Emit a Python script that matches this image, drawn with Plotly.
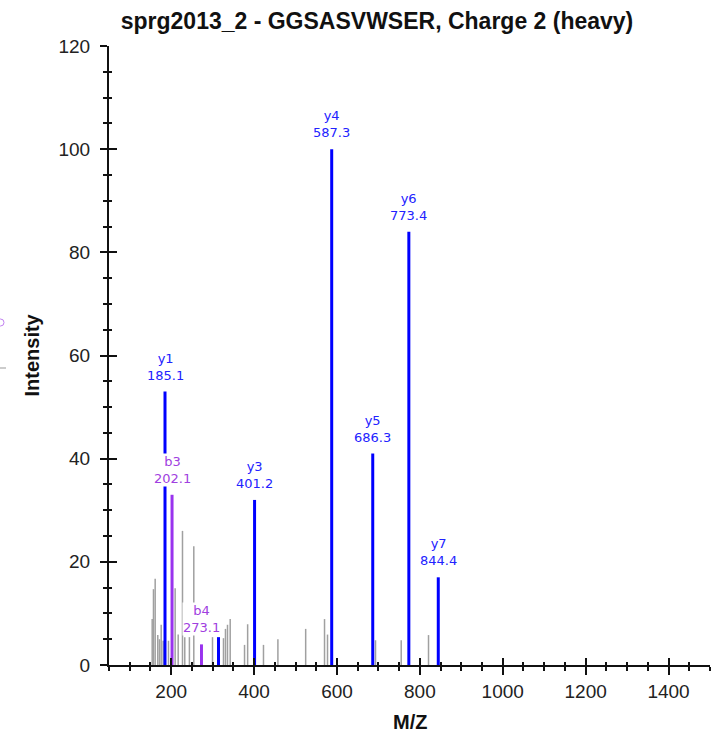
import plotly.graph_objects as go

# ---- data ----
y_ion_mz = [185.1, 314.2, 401.2, 587.3, 686.3, 773.4, 844.4]
y_ion_int = [53, 5.4, 32, 100, 41, 84, 17]
y_ion_lbl = ["y1", "", "y3", "y4", "y5", "y6", "y7"]

b_ion_mz = [202.1, 273.1]
b_ion_int = [33, 4]
b_ion_lbl = ["b3", "b4"]

other_mz = [154.2, 157.3, 161.4, 167.7, 171.8, 175.9, 180.7, 193.5, 209.6, 216.9,
            227.3, 232.8, 244.0, 254.6, 299.7, 326.2, 331.0, 335.9, 342.4, 377.0,
            384.5, 422.7, 457.5, 524.5, 570.0, 577.2, 693.0, 755.0, 820.9]
other_int = [8.9, 14.7, 16.7, 5.8, 5.0, 7.8, 4.7, 4.7, 14.9, 5.9,
             26, 5.4, 5.4, 23, 5.4, 5.2, 7.0, 7.8, 8.9, 3.9,
             7.9, 3.9, 5.0, 7.0, 8.9, 5.9, 4.8, 4.8, 5.8]

x_major_ticks = [200, 400, 600, 800, 1000, 1200, 1400]
y_major_ticks = [0, 20, 40, 60, 80, 100, 120]

TITLE = "sprg2013_2 - GGSASVWSER, Charge 2 (heavy)"

BLUE = "#0000ff"
PURPLE = "#9933ee"
GREY = "#a0a0a0"
FONT = "Liberation Sans, Arial, sans-serif"
LBLFONT = "DejaVu Sans, Verdana, sans-serif"


def sticks(mz, inten):
    xs, ys = [], []
    for m, h in zip(mz, inten):
        xs += [m, m, None]
        ys += [0, h, None]
    return xs, ys


fig = go.Figure()
gx, gy = sticks(other_mz, other_int)
fig.add_trace(go.Scatter(x=gx, y=gy, mode="lines", line=dict(color=GREY, width=1.5),
                         hoverinfo="skip", showlegend=False))
bx, by = sticks(b_ion_mz, b_ion_int)
fig.add_trace(go.Scatter(x=bx, y=by, mode="lines", line=dict(color=PURPLE, width=3),
                         hoverinfo="skip", showlegend=False))
yx, yy = sticks(y_ion_mz, y_ion_int)
fig.add_trace(go.Scatter(x=yx, y=yy, mode="lines", line=dict(color=BLUE, width=3),
                         hoverinfo="skip", showlegend=False))
# invisible trace for overlay axes (crossing ticks)
fig.add_trace(go.Scatter(x=[None], y=[None], xaxis="x2", yaxis="y2", mode="lines",
                         showlegend=False, hoverinfo="skip"))

annotations = []
for m, h, l in zip(y_ion_mz, y_ion_int, y_ion_lbl):
    if l:
        annotations.append(dict(x=m, y=h, xref="x", yref="y", text=f"{l}<br>{m:.1f}",
                                showarrow=False, yanchor="bottom", yshift=8,
                                bgcolor="white", borderpad=0,
                                font=dict(family=LBLFONT, size=13, color="#2222ff")))
for m, h, l in zip(b_ion_mz, b_ion_int, b_ion_lbl):
    annotations.append(dict(x=m, y=h, xref="x", yref="y", text=f"{l}<br>{m:.1f}",
                            showarrow=False, yanchor="bottom", yshift=8,
                            bgcolor="white", borderpad=0,
                            font=dict(family=LBLFONT, size=13, color="#a040e0")))

# axis titles
annotations.append(dict(x=0.5, y=(665 - 722) / 619, xref="paper", yref="paper",
                        text="M/Z", showarrow=False, yanchor="middle", xanchor="center",
                        font=dict(family=FONT, size=20, color="#111", weight="bold")))
annotations.append(dict(x=(31 - 109) / 601, y=0.5, xref="paper", yref="paper",
                        text="Intensity", showarrow=False, textangle=-90,
                        xanchor="center", yanchor="middle",
                        font=dict(family=FONT, size=20, color="#111", weight="bold")))

axis_common = dict(showgrid=False, zeroline=False, color="#111")

fig.update_layout(
    width=717, height=734,
    margin=dict(l=109, r=7, t=46, b=69, autoexpand=False),
    paper_bgcolor="white", plot_bgcolor="white",
    title=dict(text=TITLE, x=377 / 717, xref="container", xanchor="center",
               y=1 - 21 / 734, yref="container", yanchor="middle",
               font=dict(family=FONT, size=23, color="#111", weight="bold")),
    xaxis=dict(range=[50, 1500], tickmode="array", tickvals=x_major_ticks,
               ticktext=[str(v) for v in x_major_ticks],
               ticks="outside", ticklen=8, tickwidth=2, tickcolor="#111",
               minor=dict(ticks="outside", ticklen=4, tickwidth=1.5, dtick=50,
                          tick0=0, tickcolor="#111"),
               showline=True, linewidth=2, linecolor="#111",
               tickfont=dict(family=FONT, size=19, color="#222"),
               ticklabelstandoff=0, **axis_common),
    yaxis=dict(range=[0, 120], tickmode="array", tickvals=y_major_ticks,
               ticktext=[str(v) for v in y_major_ticks],
               ticks="outside", ticklen=7, tickwidth=2, tickcolor="#111",
               minor=dict(ticks="outside", ticklen=4, tickwidth=1.5, dtick=5,
                          tick0=0, tickcolor="#111"),
               showline=True, linewidth=2, linecolor="#111",
               tickfont=dict(family=FONT, size=19, color="#222"),
               ticklabelstandoff=6, **axis_common),
    xaxis2=dict(range=[50, 1500], overlaying="x", anchor="y", side="bottom",
                tickmode="array", tickvals=x_major_ticks, showticklabels=False,
                ticks="inside", ticklen=7, tickwidth=2, tickcolor="#111",
                minor=dict(ticks="inside", ticklen=3, tickwidth=1.5, dtick=50,
                           tick0=0, tickcolor="#111"),
                showline=False, **axis_common),
    yaxis2=dict(range=[0, 120], overlaying="y", anchor="x", side="left",
                tickmode="array", tickvals=y_major_ticks, showticklabels=False,
                ticks="inside", ticklen=8, tickwidth=2, tickcolor="#111",
                minor=dict(ticks="inside", ticklen=3, tickwidth=1.5, dtick=5,
                           tick0=0, tickcolor="#111"),
                showline=False, **axis_common),
    annotations=annotations,
    shapes=[
        dict(type="circle", xref="paper", yref="paper",
             x0=(-3 - 109) / 601, x1=(4 - 109) / 601,
             y0=(665 - 326) / 619, y1=(665 - 319) / 619,
             line=dict(color="#c080f0", width=1)),
        dict(type="line", xref="paper", yref="paper",
             x0=(0 - 109) / 601, x1=(6 - 109) / 601,
             y0=(665 - 368) / 619, y1=(665 - 368) / 619,
             line=dict(color="#999", width=1)),
    ],
)

fig.write_html("out.html", config={"displayModeBar": False},
               post_script="document.body.style.margin='0';document.body.style.padding='0';")
